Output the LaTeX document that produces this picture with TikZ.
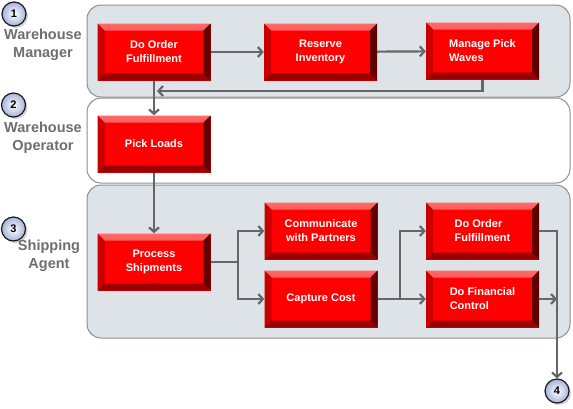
\documentclass[tikz,border=0pt]{standalone}
\usepackage{fontspec}
\setmainfont{Liberation Sans}
\usetikzlibrary{arrows.meta,shadows}
\definecolor{lanefill}{HTML}{DDE3E6}
\definecolor{laneline}{HTML}{8E8E8E}
\definecolor{arr}{HTML}{666666}
\definecolor{lbl}{HTML}{6E6E6E}
\definecolor{bevT1}{HTML}{FF6A6A}
\definecolor{bevT2}{HTML}{E80000}
\definecolor{bevL}{HTML}{C80000}
\definecolor{bevR}{HTML}{600000}
\definecolor{bevB}{HTML}{9A0000}
\definecolor{face}{HTML}{FF0000}
\definecolor{circfill}{HTML}{A4B4DC}
\tikzset{
  lane/.style={draw=laneline, line width=1pt, rounded corners=14pt},
  lanelabel/.style={text=lbl, font=\bfseries\fontsize{14.5}{18}\selectfont, align=center, inner sep=0pt},
  redbox/.style={fill=face, minimum width=113pt, minimum height=57pt, inner sep=2pt,
    text=white, font=\bfseries\fontsize{11}{14}\selectfont, align=center,
    path picture={
      \shade[top color=bevT1, bottom color=bevT2]
        (path picture bounding box.north west) -- (path picture bounding box.north east)
        -- ([shift={(-7pt,-7pt)}]path picture bounding box.north east)
        -- ([shift={(7pt,-7pt)}]path picture bounding box.north west) -- cycle;
      \fill[bevL]
        (path picture bounding box.north west) -- ([shift={(7pt,-7pt)}]path picture bounding box.north west)
        -- ([shift={(7pt,7pt)}]path picture bounding box.south west)
        -- (path picture bounding box.south west) -- cycle;
      \fill[bevR]
        (path picture bounding box.north east) -- ([shift={(-7pt,-7pt)}]path picture bounding box.north east)
        -- ([shift={(-7pt,7pt)}]path picture bounding box.south east)
        -- (path picture bounding box.south east) -- cycle;
      \fill[bevB]
        (path picture bounding box.south west) -- ([shift={(7pt,7pt)}]path picture bounding box.south west)
        -- ([shift={(-7pt,7pt)}]path picture bounding box.south east)
        -- (path picture bounding box.south east) -- cycle;
    }},
  numcirc/.style={circle, draw=black!90, line width=1.2pt, inner color=white, outer color=circfill,
    minimum size=24pt, inner sep=0pt, font=\bfseries\fontsize{11}{13}\selectfont,
    drop shadow={shadow xshift=2pt, shadow yshift=-2pt, opacity=0.35}},
  conn/.style={draw=arr, line width=2.2pt, -{Straight Barb[length=4.5pt,width=10pt]}},
  plain/.style={draw=arr, line width=2.2pt}
}
\begin{document}
\begin{tikzpicture}[x=1pt,y=-1pt]
\useasboundingbox (0,0) rectangle (573,408);
% lanes
\draw[lane, fill=lanefill] (87,5) rectangle (570,97);
\draw[lane, fill=white] (87,98) rectangle (570,183);
\draw[lane, fill=lanefill] (87,185) rectangle (570,338);
% lane labels
\node[numcirc] (n1) at (14,14) {1};
\node[numcirc] (n2) at (13.5,105) {2};
\node[numcirc] (n3) at (13.5,229) {3};
\node[lanelabel] (l1) at (43,45) {Warehouse\\Manager};
\node[lanelabel] (l2) at (43,138) {Warehouse\\Operator};
\node[lanelabel] (l3) at (49,256) {Shipping\\Agent};
% boxes
\node[redbox] (dof1) at (154,52) {Do Order\\Fulfillment};
\node[redbox] (res) at (320.5,52) {Reserve\\Inventory};
\node[redbox, align=left] (mpw) at (482.5,51) {Manage Pick\\Waves};
\node[redbox] (pick) at (154,144) {Pick Loads};
\node[redbox] (proc) at (154,262) {Process\\Shipments};
\node[redbox] (comm) at (321,231) {Communicate\\with Partners};
\node[redbox] (cap) at (321,299) {Capture Cost};
\node[redbox, align=left] (dof2) at (482.5,231) {Do Order\\Fulfillment};
\node[redbox, align=left] (dfc) at (482.5,299) {Do Financial\\Control};
\node[numcirc] (n4) at (557,391) {4};
% junctions
\coordinate (ret) at (157,91);
\coordinate (j1) at (238,262);
\coordinate (j2) at (400,299);
\coordinate (j3) at (557,299);
% connectors
\draw[conn] (dof1) -- (res);
\draw[conn] (res) -- (mpw);
\draw[conn] (mpw.south) |- (ret);
\draw[conn] (dof1) -- (pick);
\draw[conn] (pick) -- (proc);
\draw[plain] (proc.east) -- (j1);
\draw[conn] (j1) |- (comm.west);
\draw[conn] (j1) |- (cap.west);
\draw[plain] (cap.east) -- (j2);
\draw[conn] (j2) |- (dof2.west);
\draw[conn] (j2) -- (dfc.west);
\draw[conn] (dof2.east) -| (n4.north);
\draw[conn] (dfc.east) -- (j3);
\end{tikzpicture}
\end{document}
